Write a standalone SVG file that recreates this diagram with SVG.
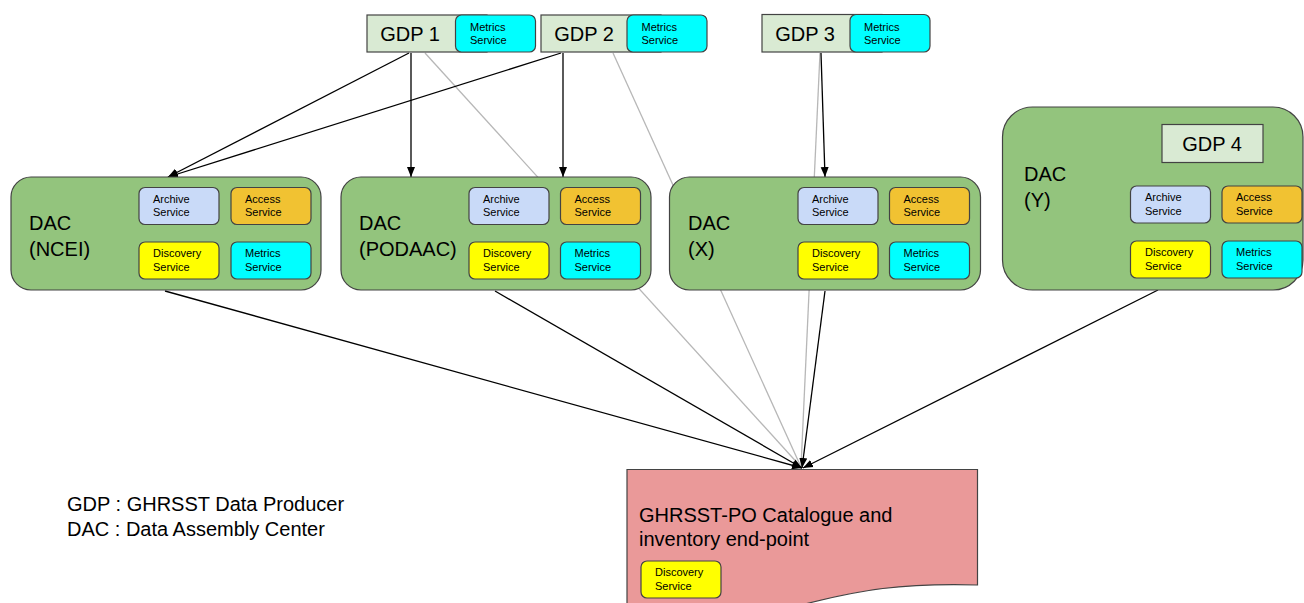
<svg xmlns="http://www.w3.org/2000/svg" width="1304" height="603" viewBox="0 0 1304 603">
<style>
text{font-family:"Liberation Sans",Arial,sans-serif;fill:#000}
.big{font-size:20px}
.sm{font-size:11px}
.gdp{fill:#d9ead3;stroke:#434343;stroke-width:1.2}
.dac{fill:#93c47d;stroke:#434343;stroke-width:1.2}
.svc{stroke:#434343;stroke-width:1.2}
.met{fill:#00ffff}
.arc{fill:#c9daf8}
.acc{fill:#f1c232}
.dis{fill:#ffff00}
.blk{stroke:#000;stroke-width:1.3;fill:none}
.gry{stroke:#b7b7b7;stroke-width:1.3;fill:none}
</style>
<defs>
<marker id="ah" viewBox="0 0 10 10" refX="10" refY="5" markerWidth="10" markerHeight="10" markerUnits="userSpaceOnUse" orient="auto">
<path d="M0,1 L10,5 L0,9 Z" fill="#000"/>
</marker>
</defs>

<g id="connectors">
<line class="gry" x1="425" y1="53" x2="801" y2="467"/>
<line class="gry" x1="613" y1="53" x2="801" y2="467"/>
<line class="gry" x1="820" y1="53" x2="801" y2="467"/>
<line class="blk" x1="409" y1="53" x2="168" y2="177" marker-end="url(#ah)"/>
<line class="blk" x1="561" y1="53" x2="168" y2="177" marker-end="url(#ah)"/>
<line class="blk" x1="411" y1="53" x2="411" y2="177" marker-end="url(#ah)"/>
<line class="blk" x1="563" y1="53" x2="563" y2="177" marker-end="url(#ah)"/>
<line class="blk" x1="821" y1="53" x2="825" y2="177" marker-end="url(#ah)"/>
<line class="blk" x1="165" y1="291" x2="802" y2="468" marker-end="url(#ah)"/>
<line class="blk" x1="495" y1="291" x2="802" y2="468" marker-end="url(#ah)"/>
<line class="blk" x1="825" y1="291" x2="802" y2="468" marker-end="url(#ah)"/>
<line class="blk" x1="1158" y1="290" x2="803" y2="468" marker-end="url(#ah)"/>
</g>

<g id="gdp1">
<rect class="gdp" x="367" y="15" width="120" height="37"/>
<text class="big" x="410" y="41" text-anchor="middle">GDP 1</text>
<rect class="svc met" x="455.5" y="15" width="80" height="37" rx="6"/>
<text class="sm" x="470" y="31">Metrics</text>
<text class="sm" x="470" y="44">Service</text>
</g>
<g id="gdp2">
<rect class="gdp" x="541" y="15" width="120" height="37"/>
<text class="big" x="584" y="41" text-anchor="middle">GDP 2</text>
<rect class="svc met" x="627" y="15" width="80" height="37" rx="6"/>
<text class="sm" x="641.5" y="31">Metrics</text>
<text class="sm" x="641.5" y="44">Service</text>
</g>
<g id="gdp3">
<rect class="gdp" x="762" y="14.5" width="120" height="37.5"/>
<text class="big" x="805" y="41" text-anchor="middle">GDP 3</text>
<rect class="svc met" x="850" y="14.5" width="80" height="37.5" rx="6"/>
<text class="sm" x="864" y="31">Metrics</text>
<text class="sm" x="864" y="44">Service</text>
</g>

<g id="dac-ncei">
<rect class="dac" x="11" y="177" width="310" height="113" rx="20"/>
<text class="big" x="29" y="230">DAC</text>
<text class="big" x="29" y="256">(NCEI)</text>
<rect class="svc arc" x="139" y="187.5" width="80" height="37" rx="6"/>
<text class="sm" x="153" y="202.5">Archive</text>
<text class="sm" x="153" y="216">Service</text>
<rect class="svc acc" x="231" y="187.5" width="80" height="37" rx="6"/>
<text class="sm" x="245" y="202.5">Access</text>
<text class="sm" x="245" y="216">Service</text>
<rect class="svc dis" x="139" y="242" width="80" height="37" rx="6"/>
<text class="sm" x="153" y="257">Discovery</text>
<text class="sm" x="153" y="270.5">Service</text>
<rect class="svc met" x="231" y="242" width="80" height="37" rx="6"/>
<text class="sm" x="245" y="257">Metrics</text>
<text class="sm" x="245" y="270.5">Service</text>
</g>

<g id="dac-podaac">
<rect class="dac" x="341" y="177" width="310" height="113" rx="20"/>
<text class="big" x="359" y="230">DAC</text>
<text class="big" x="359" y="256">(PODAAC)</text>
<rect class="svc arc" x="469" y="187.5" width="80" height="37" rx="6"/>
<text class="sm" x="483" y="202.5">Archive</text>
<text class="sm" x="483" y="216">Service</text>
<rect class="svc acc" x="560.5" y="187.5" width="80" height="37" rx="6"/>
<text class="sm" x="574.5" y="202.5">Access</text>
<text class="sm" x="574.5" y="216">Service</text>
<rect class="svc dis" x="469" y="242" width="80" height="37" rx="6"/>
<text class="sm" x="483" y="257">Discovery</text>
<text class="sm" x="483" y="270.5">Service</text>
<rect class="svc met" x="560.5" y="242" width="80" height="37" rx="6"/>
<text class="sm" x="574.5" y="257">Metrics</text>
<text class="sm" x="574.5" y="270.5">Service</text>
</g>

<g id="dac-x">
<rect class="dac" x="669.5" y="177" width="311" height="113" rx="20"/>
<text class="big" x="688" y="230">DAC</text>
<text class="big" x="688" y="256">(X)</text>
<rect class="svc arc" x="798" y="187.5" width="80" height="37" rx="6"/>
<text class="sm" x="812" y="202.5">Archive</text>
<text class="sm" x="812" y="216">Service</text>
<rect class="svc acc" x="889.5" y="187.5" width="80" height="37" rx="6"/>
<text class="sm" x="903.5" y="202.5">Access</text>
<text class="sm" x="903.5" y="216">Service</text>
<rect class="svc dis" x="798" y="242" width="80" height="37" rx="6"/>
<text class="sm" x="812" y="257">Discovery</text>
<text class="sm" x="812" y="270.5">Service</text>
<rect class="svc met" x="889.5" y="242" width="80" height="37" rx="6"/>
<text class="sm" x="903.5" y="257">Metrics</text>
<text class="sm" x="903.5" y="270.5">Service</text>
</g>

<g id="dac-y">
<rect class="dac" x="1002.5" y="107" width="300.5" height="183" rx="30"/>
<text class="big" x="1024" y="181">DAC</text>
<text class="big" x="1024" y="207">(Y)</text>
<g id="gdp4">
<rect class="gdp" x="1162" y="124.5" width="101" height="38"/>
<text class="big" x="1212" y="151" text-anchor="middle">GDP 4</text>
</g>
<rect class="svc arc" x="1130.5" y="186" width="80" height="37" rx="6"/>
<text class="sm" x="1145" y="201">Archive</text>
<text class="sm" x="1145" y="214.5">Service</text>
<rect class="svc acc" x="1222" y="186" width="80" height="37" rx="6"/>
<text class="sm" x="1236" y="201">Access</text>
<text class="sm" x="1236" y="214.5">Service</text>
<rect class="svc dis" x="1130.5" y="241" width="80" height="37" rx="6"/>
<text class="sm" x="1145" y="256">Discovery</text>
<text class="sm" x="1145" y="269.5">Service</text>
<rect class="svc met" x="1222" y="241" width="80" height="37" rx="6"/>
<text class="sm" x="1236" y="256">Metrics</text>
<text class="sm" x="1236" y="269.5">Service</text>
</g>

<g id="catalogue">
<path d="M627,469.5 H977.5 V585 C900,583 860,590 805,604 L780,612 H627 Z" fill="#ea9999" stroke="#434343" stroke-width="1.2"/>
<text class="big" x="639" y="522">GHRSST-PO Catalogue and</text>
<text class="big" x="639" y="546">inventory end-point</text>
<rect class="svc dis" x="641" y="561" width="80" height="37" rx="6"/>
<text class="sm" x="655" y="576">Discovery</text>
<text class="sm" x="655" y="589.5">Service</text>
</g>

<g id="legend">
<text class="big" x="67" y="511">GDP : GHRSST Data Producer</text>
<text class="big" x="67" y="536">DAC : Data Assembly Center</text>
</g>
</svg>
